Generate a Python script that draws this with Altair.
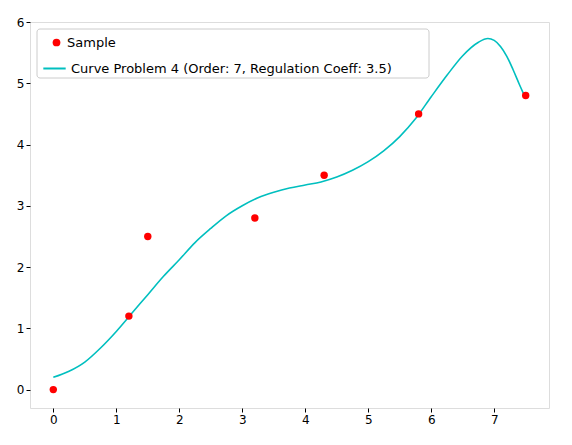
import altair as alt
import pandas as pd

sample_x = [0.0, 1.2, 1.5, 3.2, 4.3, 5.8, 7.5]
sample_y = [0.0, 1.2, 2.5, 2.8, 3.5, 4.5, 4.8]

curve_x = [0.0, 0.25, 0.5, 0.75, 1.0, 1.25, 1.5, 1.75, 2.0, 2.25, 2.5, 2.75, 3.0,
           3.25, 3.5, 3.75, 4.0, 4.25, 4.5, 4.75, 5.0, 5.25, 5.5, 5.75, 6.0,
           6.25, 6.5, 6.75, 6.9, 7.0, 7.1, 7.2, 7.3, 7.4, 7.5]
curve_y = [0.2, 0.3, 0.45, 0.68, 0.95, 1.25, 1.55, 1.85, 2.12, 2.4, 2.63, 2.84, 3.0,
           3.13, 3.22, 3.29, 3.34, 3.39, 3.47, 3.58, 3.72, 3.9, 4.13, 4.42, 4.78,
           5.13, 5.45, 5.67, 5.73, 5.7, 5.6, 5.44, 5.22, 4.98, 4.75]

pts = pd.DataFrame({"x": sample_x, "y": sample_y, "s": "Sample"})
crv = pd.DataFrame({"x": curve_x, "y": curve_y,
                    "c": "Curve Problem 4 (Order: 7, Regulation Coeff: 3.5)"})

xs = alt.Scale(domain=[-0.37, 7.87], nice=False, zero=False)
ys = alt.Scale(domain=[-0.3, 6.0], nice=False, zero=False)
xax = alt.Axis(values=list(range(0, 8)), title=None, grid=False, tickColor="black",
               labelColor="black", domain=False, labelFontSize=12, tickSize=4)
yax = alt.Axis(values=list(range(0, 7)), title=None, grid=False, tickColor="black",
               labelColor="black", domain=False, labelFontSize=12, tickSize=4)

legend_common = dict(orient="none", title=None, labelFontSize=13, labelLimit=0,
                     labelColor="black", legendX=12, padding=0)

# legend frame (decoration)
frame = alt.Chart(pd.DataFrame({"k": [0]})).mark_rect(
    fill="white", stroke="#cccccc", cornerRadius=3
).encode(x=alt.value(7), x2=alt.value(399), y=alt.value(7), y2=alt.value(56))

line = alt.Chart(crv).mark_line(strokeWidth=1.6, interpolate="monotone").encode(
    x=alt.X("x:Q", scale=xs, axis=xax),
    y=alt.Y("y:Q", scale=ys, axis=yax),
    stroke=alt.Stroke("c:N", scale=alt.Scale(range=["#00bfbf"]),
                      legend=alt.Legend(symbolType="stroke", symbolSize=500,
                                        symbolStrokeWidth=2, legendY=34,
                                        **legend_common)),
)

points = alt.Chart(pts).mark_point(filled=True, size=55, opacity=1).encode(
    x=alt.X("x:Q", scale=xs, axis=xax),
    y=alt.Y("y:Q", scale=ys, axis=yax),
    fill=alt.Fill("s:N", scale=alt.Scale(range=["#ff0000"]),
                  legend=alt.Legend(symbolType="circle", symbolSize=60, legendY=14,
                                    symbolOffset=8, **legend_common)),
)

chart = (line + points + frame).resolve_legend(
    fill="independent", stroke="independent"
).properties(
    width=519, height=386, padding={"left": 8, "top": 8, "right": 5, "bottom": 5}
).configure_view(stroke="black", strokeWidth=1).configure(font="DejaVu Sans")

chart.save("out.html", embed_options={"renderer": "svg", "actions": False})
